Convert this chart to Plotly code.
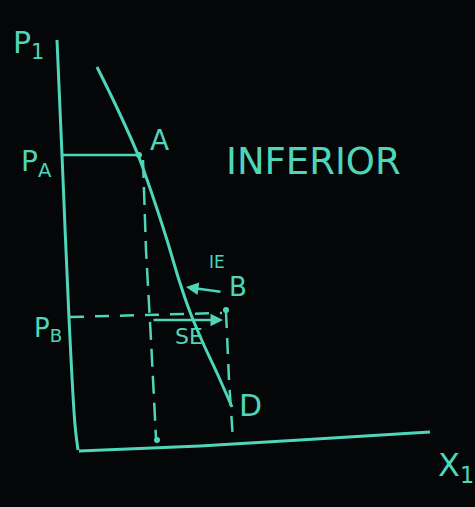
import plotly.graph_objects as go

# Hand-drawn diagram, coordinates in board units (x right, y down)
y_axis_x = [57, 62, 69, 75, 78]
y_axis_y = [40, 155, 318, 425, 450]
x_axis_x = [79, 200, 300, 430]
x_axis_y = [451, 446, 440, 432]
demand_x = [97, 118, 138, 153, 167, 179, 190, 203, 217, 232]
demand_y = [67, 110, 155, 197, 240, 280, 312, 343, 373, 407]
pa_x = [63, 138]
pa_y = [155, 155]
drop_a_x = [143, 146, 151, 156]
drop_a_y = [160, 250, 340, 438]
pb_x = [70, 222]
pb_y = [317, 313]
drop_b_x = [226, 229, 233]
drop_b_y = [312, 380, 440]
se_arrow = [(223, 320), (152, 320)]   # (head, tail)
ie_arrow = [(186, 287), (222, 292)]   # (head, tail)
point_a = (139, 155)
point_b = (226, 310)
point_q = (157, 440)

C = "#4fd6b8"
BG = "#040608"
fig = go.Figure()

def line(xs, ys, dash="solid", w=3, shape="spline"):
    fig.add_trace(go.Scatter(x=xs, y=ys, mode="lines",
                             line=dict(color=C, width=w, dash=dash, shape=shape),
                             hoverinfo="skip", showlegend=False))

line(y_axis_x, y_axis_y, shape="spline")
line(x_axis_x, x_axis_y, shape="linear")
line(demand_x, demand_y)
line(pa_x, pa_y, w=2.5)
line(drop_a_x, drop_a_y, dash="18px,9px", w=2.5, shape="linear")
line(pb_x, pb_y, dash="14px,11px", w=2.5, shape="linear")
line(drop_b_x, drop_b_y, dash="16px,10px", w=2.5, shape="linear")

fig.add_trace(go.Scatter(x=[point_a[0], point_b[0], point_q[0]],
                         y=[point_a[1], point_b[1], point_q[1]],
                         mode="markers", marker=dict(color=C, size=6),
                         hoverinfo="skip", showlegend=False))

for head, tail in (se_arrow, ie_arrow):
    fig.add_annotation(x=head[0], y=head[1], ax=tail[0], ay=tail[1],
                       xref="x", yref="y", axref="x", ayref="y",
                       showarrow=True, arrowhead=2, arrowsize=1, arrowwidth=2.5,
                       arrowcolor=C, text="")

FONT = "DejaVu Sans"
labels = [
    ("P<sub>1</sub>", 28, 44, 30),
    ("P<sub>A</sub>", 36, 163, 28),
    ("P<sub>B</sub>", 48, 329, 26),
    ("A", 159, 140, 28),
    ("B", 238, 287, 26),
    ("IE", 217, 262, 17),
    ("SE", 189, 336, 22),
    ("D", 250, 405, 30),
    ("INFERIOR", 313, 161, 37),
    ("X<sub>1</sub>", 456, 467, 32),
]
for t, x, y, s in labels:
    fig.add_annotation(x=x, y=y, xref="x", yref="y", text=t, showarrow=False,
                       font=dict(family=FONT, size=s, color=C))

fig.update_layout(
    width=475, height=507,
    margin=dict(l=0, r=0, t=0, b=0),
    paper_bgcolor=BG, plot_bgcolor=BG,
    xaxis=dict(range=[0, 475], visible=False, fixedrange=True),
    yaxis=dict(range=[507, 0], visible=False, fixedrange=True),
)
fig.write_html("out.html",
               config={"displayModeBar": False, "staticPlot": True},
               post_script="document.body.style.margin='0';document.body.style.background='%s';document.body.style.overflow='hidden';" % BG)
